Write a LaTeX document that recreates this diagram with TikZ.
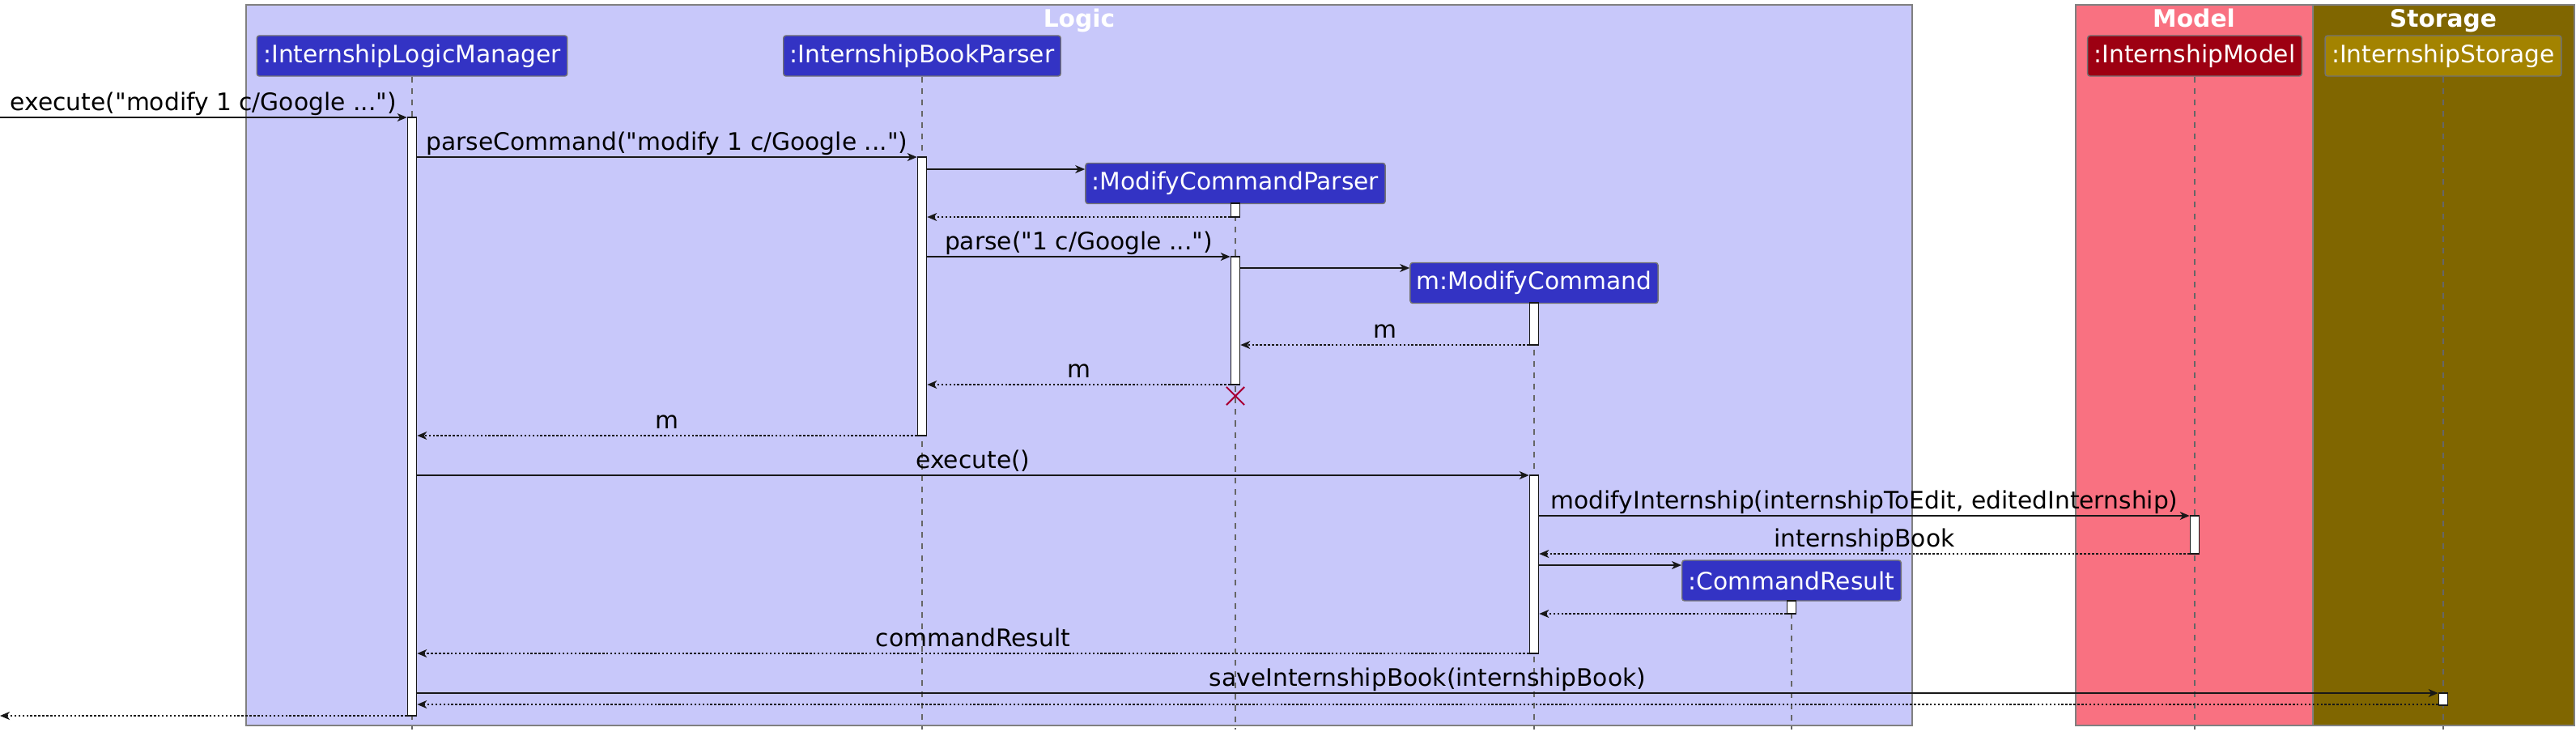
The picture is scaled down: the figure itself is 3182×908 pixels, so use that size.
\documentclass[tikz,border=0pt]{standalone}
\usepackage{fontspec}
\setmainfont{DejaVu Sans}[Ligatures=TeXOff]
\usetikzlibrary{arrows.meta,shapes.misc}
\definecolor{logicbg}{HTML}{C8C8FA}
\definecolor{logicfg}{HTML}{3333C4}
\definecolor{modelbg}{HTML}{F97181}
\definecolor{modelfg}{HTML}{9D0012}
\definecolor{storebg}{HTML}{806600}
\definecolor{storefg}{HTML}{A38300}
\definecolor{killred}{HTML}{A80036}
\definecolor{ink}{HTML}{181818}

\begin{document}
\begin{tikzpicture}[x=0.01cm, y=-0.01cm, font=\fontsize{8.45}{10}\selectfont,
    actor/.style={rectangle, rounded corners=0.03cm, draw=black!55, line width=0.4pt,
        text=white, minimum height=0.5cm, inner xsep=0.08cm, inner ysep=0pt},
    grouptitle/.style={anchor=base, text=white, font=\fontsize{8.45}{10}\selectfont\bfseries},
    life/.style={draw=black!60, line width=0.35pt, dash pattern=on 2pt off 2pt},
    bar/.style={rectangle, draw=ink, fill=white, line width=0.45pt, minimum width=0.11cm, inner sep=0pt},
    call/.style={draw=ink, line width=0.4pt, -{Stealth[length=0.12cm,width=0.1cm,inset=0.035cm]}},
    ret/.style={call, dash pattern=on 0.7pt off 0.7pt},
    msg/.style={midway, anchor=base, yshift=0.085cm, inner sep=0pt, text=black}]
    \useasboundingbox (0,0) rectangle (3182,908);

    % Groups
    \draw[fill=logicbg, draw=black!50, line width=0.4pt] (304,6) rectangle (2362,896);
    \draw[fill=modelbg, draw=black!50, line width=0.4pt] (2564,6) rectangle (2857,896);
    \draw[fill=storebg, draw=black!50, line width=0.4pt] (2857,6) rectangle (3180,896);
    \node[grouptitle] (logicT) at (1333,33) {Logic};
    \node[grouptitle] (modelT) at (2710,33) {Model};
    \node[grouptitle] (storeT) at (3018,33) {Storage};

    % Participants
    \node[actor, fill=logicfg] (ilm) at (509,69) {:InternshipLogicManager};
    \node[actor, fill=logicfg] (ibp) at (1139,69) {:InternshipBookParser};
    \node[actor, fill=modelfg] (im) at (2711,69) {:InternshipModel};
    \node[actor, fill=storefg] (is) at (3018,69) {:InternshipStorage};
    \node[actor, fill=logicfg] (mcp) at (1526,226.5) {:ModifyCommandParser};
    \node[actor, fill=logicfg] (mc) at (1895,349.5) {m:ModifyCommand};
    \node[actor, fill=logicfg] (cr) at (2213,717) {:CommandResult};

    % Lifelines
    \foreach \p in {ilm,ibp,mcp,mc,cr,im,is}
        \draw[life] (\p.south) -- (\p.south |- 0,901);

    % Activation bars
    \foreach \n/\p/\a/\b in {ilmA/ilm/145/884, ibpA/ibp/194/538, mcpA/mcp/251/268,
        mcpB/mcp/317/475, mcA/mc/374/426, mcB/mc/587/807, imA/im/637/684,
        crA/cr/742/758, isA/is/856/871} {
        \pgfmathsetmacro{\m}{(\a+\b)/2}
        \node[bar, minimum height={(\b-\a)*0.01cm}] (\n) at (\p |- 0,\m) {};
    }

    % Messages
    \coordinate (src) at (0,145);
    \coordinate (sink) at (0,884);
    \draw[call] (src) -- (ilmA.west |- src) node[msg] {execute("modify 1 c/Google ...")};
    \draw[call] (ilmA.east |- 0,194) -- (ibpA.west |- 0,194) node[msg] {parseCommand("modify 1 c/Google ...")};
    \draw[call] (ibpA.east |- 0,209) -- (mcp.west |- 0,209);
    \draw[ret] (mcpA.west |- 0,268) -- (ibpA.east |- 0,268);
    \draw[call] (ibpA.east |- 0,317) -- (mcpB.west |- 0,317) node[msg] {parse("1 c/Google ...")};
    \draw[call] (mcpB.east |- 0,331) -- (mc.west |- 0,331);
    \draw[ret] (mcA.west |- 0,426) -- (mcpB.east |- 0,426) node[msg] {m};
    \draw[ret] (mcpB.west |- 0,475) -- (ibpA.east |- 0,475) node[msg] {m};
    \node[cross out, draw=killred, line width=0.6pt, minimum size=0.2cm, inner sep=0pt] (mcpX) at (mcp |- 0,489) {};
    \draw[ret] (ibpA.west |- 0,538) -- (ilmA.east |- 0,538) node[msg] {m};
    \draw[call] (ilmA.east |- 0,587) -- (mcB.west |- 0,587) node[msg] {execute()};
    \draw[call] (mcB.east |- 0,637) -- (imA.west |- 0,637) node[msg] {modifyInternship(internshipToEdit, editedInternship)};
    \draw[ret] (imA.west |- 0,684) -- (mcB.east |- 0,684) node[msg] {internshipBook};
    \draw[call] (mcB.east |- 0,698) -- (cr.west |- 0,698);
    \draw[ret] (crA.west |- 0,758) -- (mcB.east |- 0,758);
    \draw[ret] (mcB.west |- 0,807) -- (ilmA.east |- 0,807) node[msg] {commandResult};
    \draw[call] (ilmA.east |- 0,856) -- (isA.west |- 0,856) node[msg] {saveInternshipBook(internshipBook)};
    \draw[ret] (isA.west |- 0,870) -- (ilmA.east |- 0,870);
    \draw[ret] (ilmA.west |- sink) -- (sink);
\end{tikzpicture}
\end{document}
